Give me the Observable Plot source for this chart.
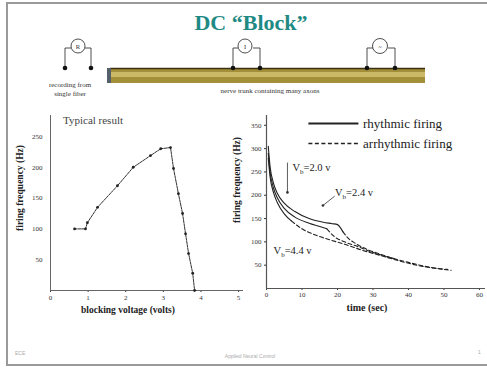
<!DOCTYPE html>
<html><head><meta charset="utf-8">
<script src="https://cdn.jsdelivr.net/npm/d3@7"></script>
<script src="https://cdn.jsdelivr.net/npm/@observablehq/plot@0.6"></script>
<style>
html,body{margin:0;padding:0;background:#fff;}
#slide{position:relative;width:487px;height:368px;overflow:hidden;font-family:"Liberation Serif",serif;}
.abs{position:absolute;}
.lbl{position:absolute;font-weight:bold;color:#222;white-space:nowrap;}
</style></head>
<body>
<div id="slide">
<svg class="abs" style="left:0;top:0" width="487" height="368">
  <rect x="7" y="3" width="495" height="362" fill="none" stroke="#9a9a9a" stroke-width="2"/>
  <text x="251" y="30" text-anchor="middle" font-family="Liberation Serif" font-weight="bold" font-size="22" fill="#1f8a84">DC “Block”</text>
  <!-- nerve trunk -->
  <rect x="110" y="68" width="315" height="15" fill="#a38e3a"/>
  <rect x="110" y="72" width="315" height="5" fill="#cbb968"/>
  <line x1="110" y1="68.5" x2="425" y2="68.5" stroke="#3a3210" stroke-width="1.5"/>
  <rect x="107" y="68" width="4" height="15" fill="#56606a"/>
  <!-- electrodes & meters -->
  <g fill="none" stroke="#222" stroke-width="0.8">
    <path d="M65,68 V48 H71 M91,68 V48 H85"/><circle cx="78" cy="46" r="7" fill="#fff"/>
    <path d="M233,68 V48 H238 M260,68 V48 H253"/><circle cx="245" cy="46" r="7" fill="#fff"/>
    <path d="M367,68 V48 H373 M395,68 V48 H388"/><circle cx="380" cy="46" r="7.5" fill="#fff"/>
  </g>
  <g fill="#111">
    <circle cx="65" cy="68" r="2.3"/><circle cx="91" cy="68" r="2.3"/>
    <circle cx="233" cy="68" r="2.3"/><circle cx="260" cy="68" r="2.3"/>
    <circle cx="367" cy="68" r="2.3"/><circle cx="395" cy="68" r="2.3"/>
  </g>
  <g font-family="Liberation Serif" font-size="6.5" fill="#333" text-anchor="middle">
    <text x="78" y="48.5">R</text><text x="245" y="48.5">I</text><text x="380" y="48.5">~</text>
  </g>
  <g font-family="Liberation Serif" font-size="7" fill="#333" text-anchor="middle">
    <text x="70" y="87">recording from</text>
    <text x="70" y="96">single fiber</text>
    <text x="270" y="93">nerve trunk containing many axons</text>
  </g>
  <g font-family="Liberation Sans" font-size="5" fill="#aaa">
    <text x="15" y="355">ECE</text>
    <text x="250" y="358" text-anchor="middle">Applied Neural Control</text>
    <text x="478" y="354">1</text>
  </g>
</svg>
<div class="lbl" style="left:63px;top:114px;font-size:11px;font-weight:normal;color:#444">Typical result</div>
<div class="lbl" style="left:20px;top:188px;font-size:9.5px;transform:translate(-50%,-50%) rotate(-90deg)">firing frequency (Hz)</div>
<div class="lbl" style="left:128px;top:310px;font-size:9.5px;transform:translate(-50%,-50%)">blocking voltage (volts)</div>
<div class="lbl" style="left:237px;top:180px;font-size:9.5px;transform:translate(-50%,-50%) rotate(-90deg)">firing frequency (Hz)</div>
<div class="lbl" style="left:367px;top:307px;font-size:10px;transform:translate(-50%,-50%)">time (sec)</div>
</div>
<script>
// ---- left chart data: typical result ----
const voltage = [0.64, 0.93, 0.98, 1.25, 1.78, 2.2, 2.66, 2.93, 3.19, 3.27, 3.4, 3.51, 3.59, 3.67, 3.78, 3.83];
const rate    = [100, 100, 110, 135, 170, 200, 219, 230, 232, 198, 157, 125, 92, 60, 28, 0];
const voltTicks = [0, 1, 2, 3, 4, 5];
const rateTicks = [50, 100, 150, 200, 250];

// ---- right chart data: firing frequency vs time ----
const tA_r = [0.5, 1, 2, 3, 5, 8, 12, 16, 18.5, 20, 21.5];
const fA_r = [305, 262, 225, 205, 183, 165, 150, 142, 139, 137, 122];
const tA_a = [21.5, 23, 25, 28, 31.5, 35, 40, 45, 52];
const fA_a = [122, 108, 97, 85, 75, 66, 56, 47, 39];
const tB_r = [0.5, 1, 2, 3, 5, 8, 12, 15, 17];
const fB_r = [290, 250, 215, 195, 172, 153, 140, 133, 128];
const tB_a = [17, 19, 22, 25, 29, 33, 36];
const fB_a = [128, 112, 100, 92, 80, 70, 64];
const tC_r = [0.5, 1, 2, 3, 5, 7];
const fC_r = [280, 240, 205, 185, 160, 145];
const tC_a = [7, 10, 14, 18, 22, 27, 32, 38, 45, 51];
const fC_a = [145, 128, 114, 104, 95, 82, 71, 58, 46, 41];
const timeTicks = [0, 10, 20, 30, 40, 50, 60];
const freqTicks = [50, 100, 150, 200, 250, 300, 350];

// annotations (data units)
const annText = ["=2.0 v", "=2.4 v", "=4.4 v"];
const annT = [7.3, 19.3, 2.0];
const annF = [260, 206, 82];
const arrowT1 = [5.9, 19.2];
const arrowF1 = [270, 198];
const arrowT2 = [5.9, 15.9];
const arrowF2 = [206, 178];

// legend
const legendNames = ["rhythmic firing", "arrhythmic firing"];
const legendF = [354, 311];
const legendT1 = 11.8, legendT2 = 25.9, legendTextT = 27.2;

const serif = "Liberation Serif";
const ink = "#222";

const zip = (ts, fs) => ts.map((t, i) => ({t, f: fs[i]}));

// left chart
const left = Plot.plot({
  width: 245, height: 210,
  marginLeft: 50, marginRight: 2, marginTop: 5, marginBottom: 30,
  style: {fontFamily: serif, fontSize: "7px", color: "#333", background: "transparent", overflow: "visible"},
  x: {domain: [0, 5.13], ticks: voltTicks, tickFormat: "d", tickSize: 2, tickPadding: 3, label: null},
  y: {domain: [0, 284], ticks: rateTicks, tickFormat: "d", tickSize: 0, tickPadding: 8, label: null},
  marks: [
    Plot.ruleX([0], {stroke: "#666", strokeWidth: 1}),
    Plot.ruleY([0], {stroke: "#666", strokeWidth: 1}),
    Plot.line(zip(voltage, rate), {x: "t", y: "f", stroke: "#333", strokeWidth: 1, strokeDasharray: "2.5,1"}),
    Plot.dot(zip(voltage, rate), {x: "t", y: "f", r: 1.4, fill: "#222", stroke: "none"})
  ]
});
left.style.position = "absolute"; left.style.left = "0px"; left.style.top = "110px";
document.getElementById("slide").appendChild(left);

// right chart
const seriesSolid = [zip(tA_r, fA_r), zip(tB_r, fB_r), zip(tC_r, fC_r)];
const seriesDash = [zip(tA_a, fA_a), zip(tB_a, fB_a), zip(tC_a, fC_a)];
const right = Plot.plot({
  width: 242, height: 210,
  marginLeft: 21, marginRight: 2, marginTop: 5, marginBottom: 32,
  style: {fontFamily: serif, fontSize: "7px", color: "#333", background: "transparent", overflow: "visible"},
  x: {domain: [0, 61.7], ticks: timeTicks, tickFormat: "d", tickSize: 2, tickPadding: 2, label: null},
  y: {domain: [0, 371], ticks: freqTicks, tickFormat: "d", tickSize: 2, tickPadding: 3, label: null},
  marks: [
    Plot.ruleX([0], {stroke: "#555", strokeWidth: 1.2}),
    Plot.ruleY([0], {stroke: "#555", strokeWidth: 1.2}),
    ...seriesSolid.map(s => Plot.line(s, {x: "t", y: "f", stroke: ink, strokeWidth: 1.1, curve: "monotone-x"})),
    ...seriesDash.map(s => Plot.line(s, {x: "t", y: "f", stroke: ink, strokeWidth: 1.1, strokeDasharray: "4,2.5", curve: "monotone-x"})),
    Plot.link(arrowT1, {x1: (d, i) => arrowT1[i], y1: (d, i) => arrowF1[i], x2: (d, i) => arrowT2[i], y2: (d, i) => arrowF2[i], stroke: "#333", strokeWidth: 0.8, markerEnd: "dot"}),
    Plot.text(annText, {x: (d, i) => annT[i], y: (d, i) => annF[i], text: d => d, textAnchor: "start", fontSize: 10.5, fill: "#222", className: "annot"}),
    Plot.link([legendNames[0]], {x1: () => legendT1, x2: () => legendT2, y1: () => legendF[0], y2: () => legendF[0], stroke: ink, strokeWidth: 2}),
    Plot.link([legendNames[1]], {x1: () => legendT1, x2: () => legendT2, y1: () => legendF[1], y2: () => legendF[1], stroke: ink, strokeWidth: 1.5, strokeDasharray: "4,2.5"}),
    Plot.text(legendNames, {x: () => legendTextT, y: (d, i) => legendF[i], text: d => d, textAnchor: "start", fontSize: 13, fill: "#222"})
  ]
});
right.style.position = "absolute"; right.style.left = "245px"; right.style.top = "110px";
document.getElementById("slide").appendChild(right);

// subscript "b" in V_b annotations
d3.select(right).selectAll("g.annot text").each(function() {
  const rest = this.textContent;
  const sel = d3.select(this);
  sel.text(null);
  sel.append("tspan").text("V");
  sel.append("tspan").attr("dy", 3).attr("font-size", 7).text("b");
  sel.append("tspan").attr("dy", -3).text(rest);
});
</script>
</body></html>
